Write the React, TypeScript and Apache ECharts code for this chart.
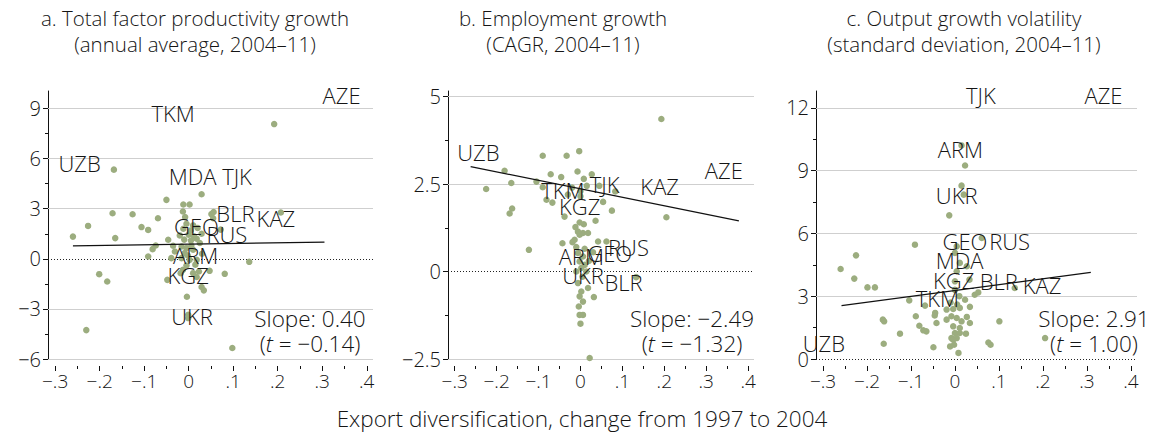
import React, { useEffect, useRef } from 'react';
import * as echarts from 'echarts';

// ---------- data ----------
const xTicks = [-0.3, -0.2, -0.1, 0, 0.1, 0.2, 0.3, 0.4];
const xMinorTicks = [-0.25, -0.15, -0.05, 0.05, 0.15, 0.25, 0.35];

const tfpTicks = [-6, -3, 0, 3, 6, 9];
const tfpMinorTicks = [-4.5, -1.5, 1.5, 4.5, 7.5];
const empTicks = [-2.5, 0, 2.5, 5];
const empMinorTicks = [-1.25, 1.25, 3.75];
const volTicks = [0, 3, 6, 9, 12];
const volMinorTicks = [1.5, 4.5, 7.5, 10.5];

const tfpPoints = [
  [0.192, 8.07], [-0.168, 5.34], [0.029, 3.87], [-0.05, 3.53], [-0.012, 3.25], [0.002, 3.25],
  [-0.013, 2.83], [-0.008, 2.5], [-0.171, 2.73], [-0.126, 2.67], [-0.069, 2.43], [-0.226, 1.97],
  [-0.26, 1.33], [-0.165, 1.24], [-0.106, 1.9], [-0.091, 1.73], [0.051, 2.68], [0.056, 2.8],
  [0.055, 2.43], [0.029, 1.5], [0.072, 1.75], [0.207, 2.77], [-0.046, 1.14], [-0.074, 0.8],
  [-0.081, 0.58], [-0.091, 0.14], [-0.035, 0.78], [-0.039, 0.04], [0.136, -0.18], [-0.201, -0.92],
  [-0.183, -1.36], [-0.048, -1.26], [-0.018, -0.86], [0.023, -0.76], [0.047, -0.72], [0.081, -0.9],
  [0.029, -1.69], [0.034, -1.89], [-0.004, -2.27], [-0.001, -3.35], [-0.001, -3.55], [-0.23, -4.27],
  [0.098, -5.34],
  [-0.005, 2.1], [0.01, 2.0], [-0.012, 1.8], [0.005, 1.7], [0.02, 1.85], [-0.01, 1.15], [0.005, 1.1],
  [0.018, 1.2], [-0.016, 0.74], [-0.005, 0.64], [0.006, 0.8], [-0.031, 0.44], [-0.009, 0.34],
  [0.01, 0.54], [-0.016, 0.04], [0.002, -0.06], [0.018, -0.06], [-0.013, -0.66], [0.01, -0.86],
  [0.018, -1.09], [0.0, 1.45], [0.012, 1.35], [-0.02, 1.4], [0.025, 0.95], [-0.002, 0.2],
  [0.015, -0.35], [-0.005, -0.4], [0.03, 0.3],
];

const empPoints = [
  [0.193, 4.36], [-0.09, 3.31], [-0.033, 3.31], [-0.003, 3.44], [-0.181, 2.88], [-0.165, 2.53],
  [-0.225, 2.36], [-0.163, 1.8], [-0.169, 1.66], [-0.123, 0.62], [-0.071, 2.78], [-0.046, 2.7],
  [-0.007, 2.86], [0.027, 2.78], [0.008, 2.65], [-0.105, 2.57], [-0.09, 2.41], [-0.081, 2.05],
  [-0.067, 1.97], [-0.038, 1.57], [0.054, 1.99], [0.075, 1.74], [0.083, 2.29], [0.205, 1.55],
  [0.036, 1.45], [-0.002, 1.4], [0.008, 1.35], [-0.012, 1.27], [-0.006, 1.14], [0.006, 1.1],
  [0.018, 1.1], [-0.002, 1.05], [-0.043, 0.81], [-0.019, 0.84], [-0.014, 0.91], [0.042, 0.86],
  [0.062, 0.86], [-0.006, 0.53], [0.006, 0.43], [-0.002, 0.29], [0.01, 0.19], [0.002, 0.1],
  [0.014, 0.0], [0.133, -0.16], [-0.006, -0.33], [0.018, -0.47], [0.002, -0.57], [-0.002, -0.71],
  [0.006, -0.86], [-0.004, -1.0], [0.032, -0.73], [-0.002, -1.24], [0.006, -1.24], [0.0, -1.49],
  [0.022, -2.47],
  [-0.02, 2.4], [0.0, 2.3], [0.015, 2.45], [-0.03, 2.2], [0.045, 2.45], [0.0, 2.15], [-0.01, 0.7],
  [0.01, 0.65], [0.02, 0.3], [-0.01, 0.0], [0.005, -0.15], [0.03, 0.55],
];

const volPoints = [
  [0.015, 10.2], [0.023, 9.24], [0.015, 8.28], [0.02, 7.85], [-0.013, 6.86], [0.061, 5.78],
  [-0.091, 5.46], [-0.225, 4.95], [-0.26, 4.3], [-0.229, 3.84], [-0.199, 3.42], [-0.182, 3.42],
  [0.004, 5.38], [0.0, 5.07], [0.011, 4.59], [0.027, 4.43], [0.004, 4.19], [0.0, 3.71],
  [0.033, 3.79], [0.136, 3.39], [0.045, 3.07], [0.053, 3.18], [-0.104, 2.8], [-0.068, 2.55],
  [0.023, 2.83], [0.034, 2.49], [-0.019, 2.36], [-0.004, 2.39], [0.011, 2.44], [-0.045, 2.2],
  [-0.046, 2.08], [-0.089, 2.04], [-0.164, 1.88], [-0.161, 1.8], [-0.019, 1.88], [-0.008, 2.04],
  [0.004, 1.96], [0.015, 1.8], [0.027, 2.01], [0.034, 1.72], [-0.042, 1.72], [0.101, 1.8],
  [-0.081, 1.59], [-0.072, 1.37], [-0.004, 1.56], [0.011, 1.48], [0.0, 1.24], [0.011, 1.24],
  [-0.008, 1.0], [0.004, 1.0], [0.025, 1.21], [-0.125, 1.21], [0.076, 0.79], [0.081, 0.68],
  [-0.049, 0.56], [-0.011, 0.6], [0.008, 0.29], [-0.004, 0.92], [-0.162, 0.73], [-0.065, 1.32],
  [-0.002, 0.68], [0.205, 1.0], [0.0, 3.3], [0.01, 3.0], [-0.01, 2.7], [0.005, 2.6],
];

const tfpLabels: [number, number, string][] = [
  [0.3435, 9.81, 'AZE'], [-0.035, 8.71, 'TKM'], [-0.245, 5.76, 'UZB'], [0.009, 4.96, 'MDA'],
  [0.1086, 4.96, 'TJK'], [0.105, 2.73, 'BLR'], [0.196, 2.43, 'KAZ'], [0.0175, 1.99, 'GEO'],
  [0.0857, 1.48, 'RUS'], [0.0155, 0.24, 'ARM'], [-0.0013, -0.96, 'KGZ'], [0.0074, -3.45, 'UKR'],
];
const empLabels: [number, number, string][] = [
  [-0.2434, 3.43, 'UZB'], [0.342, 2.91, 'AZE'], [-0.042, 2.33, 'TKM'], [0.0578, 2.51, 'TJK'],
  [0.189, 2.45, 'KAZ'], [-0.002, 1.88, 'KGZ'], [0.1146, 0.71, 'RUS'], [0.0697, 0.54, 'GEO'],
  [0.002, 0.43, 'ARM'], [0.006, -0.09, 'UKR'], [0.1026, -0.29, 'BLR'],
];
const volLabels: [number, number, string][] = [
  [0.059, 12.63, 'TJK'], [0.3377, 12.63, 'AZE'], [0.0125, 10.04, 'ARM'], [0.0039, 7.81, 'UKR'],
  [0.0227, 5.62, 'GEO'], [0.1244, 5.62, 'RUS'], [0.0107, 4.71, 'MDA'], [-0.003, 3.79, 'KGZ'],
  [0.0996, 3.71, 'BLR'], [0.198, 3.55, 'KAZ'], [-0.04, 2.92, 'TKM'], [-0.298, 0.78, 'UZB'],
];

const tfpFit = [[-0.26, 0.78], [0.305, 1.0]];
const empFit = [[-0.262, 3.0], [0.378, 1.45]];
const volFit = [[-0.258, 2.55], [0.309, 4.14]];

const titles = [
  ['a. Total factor productivity growth', '(annual average, 2004–11)'],
  ['b. Employment growth', '(CAGR, 2004–11)'],
  ['c. Output growth volatility', '(standard deviation, 2004–11)'],
];
const slopeTexts = ['Slope: 0.40', 'Slope: −2.49', 'Slope: 2.91'];
const tValues = ['−0.14', '−1.32', '1.00'];
const xTitle = 'Export diversification, change from 1997 to 2004';

// ---------- layout ----------
const FONT = "'Open Sans', 'Liberation Sans', sans-serif";
const FW = 300;
const TXT = '#151515';
const DOT = '#9cad7f';
const GRID_TOP = 91;
const GRID_H = 268;
const X_MIN = -0.316;
const X_MAX = 0.414;

const panels = [
  { left: 48, width: 325, yMin: -6, yMax: 10.05, ticks: tfpTicks, minor: tfpMinorTicks, points: tfpPoints, labels: tfpLabels, fit: tfpFit, titleX: 195, slopeX: 310 },
  { left: 448, width: 306, yMin: -2.5, yMax: 5.16, ticks: empTicks, minor: empMinorTicks, points: empPoints, labels: empLabels, fit: empFit, titleX: 563, slopeX: 692 },
  { left: 816, width: 321, yMin: 0, yMax: 12.8, ticks: volTicks, minor: volMinorTicks, points: volPoints, labels: volLabels, fit: volFit, titleX: 964, slopeX: 1094 },
];

const fmtY = (v: number) => (v < 0 ? '−' + Math.abs(v) : String(v));
const fmtX = (v: number) => {
  if (Math.abs(v) < 1e-9) return '0';
  return (v < 0 ? '−' : '') + '.' + Math.round(Math.abs(v) * 10);
};

function buildOption() {
  const grid: any[] = [];
  const xAxis: any[] = [];
  const yAxis: any[] = [];
  const series: any[] = [];
  const graphic: any[] = [];

  panels.forEach((p, i) => {
    grid.push({ left: p.left, top: GRID_TOP, width: p.width, height: GRID_H });
    xAxis.push({
      type: 'value', gridIndex: i, min: X_MIN, max: X_MAX, position: 'bottom', offset: 7,
      axisLine: { show: false, onZero: false }, splitLine: { show: false },
      axisTick: { show: true, length: 5, customValues: xTicks, lineStyle: { color: '#111', width: 1 } },
      axisLabel: { show: true, customValues: xTicks, formatter: fmtX, color: TXT, fontSize: 19, fontFamily: FONT, fontWeight: FW, margin: 5 },
    });
    xAxis.push({
      type: 'value', gridIndex: i, min: X_MIN, max: X_MAX, position: 'bottom', offset: 7,
      axisLine: { show: false, onZero: false }, splitLine: { show: false }, axisLabel: { show: false },
      axisTick: { show: true, length: 3, customValues: xMinorTicks, lineStyle: { color: '#111', width: 1 } },
    });
    yAxis.push({
      type: 'value', gridIndex: i, min: p.yMin, max: p.yMax, position: 'left',
      axisLine: { show: true, onZero: false, lineStyle: { color: '#111', width: 1 } }, splitLine: { show: false },
      axisTick: { show: true, length: 5, customValues: p.ticks, lineStyle: { color: '#111', width: 1 } },
      axisLabel: { show: true, customValues: p.ticks, formatter: fmtY, color: TXT, fontSize: 20, fontFamily: FONT, fontWeight: FW, margin: 7 },
    });
    yAxis.push({
      type: 'value', gridIndex: i, min: p.yMin, max: p.yMax, position: 'left',
      axisLine: { show: false, onZero: false }, splitLine: { show: false }, axisLabel: { show: false },
      axisTick: { show: true, length: 3, customValues: p.minor, lineStyle: { color: '#111', width: 1 } },
    });

    const xi = i * 2;
    const yi = i * 2;
    const gridVals = p.ticks.filter((v) => v !== 0);

    series.push({
      type: 'scatter', xAxisIndex: xi, yAxisIndex: yi, z: 3,
      symbolSize: 6.5, itemStyle: { color: DOT, opacity: 1 },
      data: p.points,
      silent: true,
      markLine: {
        silent: true, z: 1, symbol: ['none', 'none'], animation: false,
        label: { show: false },
        data: [
          ...gridVals.map((v) => ({ yAxis: v, lineStyle: { color: '#cfcfcf', width: 1, type: 'solid' } })),
          { yAxis: 0, lineStyle: { color: '#222', width: 1, type: [1, 2] } },
        ],
      },
    });
    series.push({
      type: 'line', xAxisIndex: xi, yAxisIndex: yi, z: 4,
      data: p.fit, symbol: 'none', showSymbol: false, silent: true,
      lineStyle: { color: '#111', width: 1.2 },
    });
    series.push({
      type: 'scatter', xAxisIndex: xi, yAxisIndex: yi, z: 5, silent: true,
      symbolSize: 1, itemStyle: { color: '#ffffff', opacity: 0 },
      data: p.labels.map((l) => ({ value: [l[0], l[1]], name: l[2] })),
      label: {
        show: true, position: 'inside', formatter: '{b}', color: TXT,
        fontSize: 22, fontFamily: FONT, fontWeight: FW,
        textBorderWidth: 0, textBorderColor: 'transparent', textShadowBlur: 0, opacity: 1,
      },
    });

    graphic.push({
      type: 'text', x: p.titleX, y: 18,
      style: { text: titles[i][0], align: 'center', verticalAlign: 'middle', fill: TXT, fontSize: 20.5, fontFamily: FONT, fontWeight: FW },
    });
    graphic.push({
      type: 'text', x: p.titleX, y: 44,
      style: { text: titles[i][1], align: 'center', verticalAlign: 'middle', fill: TXT, fontSize: 20.5, fontFamily: FONT, fontWeight: FW },
    });
    graphic.push({
      type: 'text', x: p.slopeX, y: 318,
      style: { text: slopeTexts[i], align: 'center', verticalAlign: 'middle', fill: TXT, fontSize: 22.5, fontFamily: FONT, fontWeight: FW },
    });
    graphic.push({
      type: 'text', x: p.slopeX, y: 343,
      style: {
        text: '({i|t} = ' + tValues[i] + ')', align: 'center', verticalAlign: 'middle', fill: TXT,
        fontSize: 22.5, fontFamily: FONT, fontWeight: FW,
        rich: { i: { fontStyle: 'italic', fontSize: 22.5, fontFamily: FONT, fontWeight: FW, fill: TXT } },
      },
    });
  });

  graphic.push({
    type: 'text', x: 582, y: 418,
    style: { text: xTitle, align: 'center', verticalAlign: 'middle', fill: TXT, fontSize: 22.5, fontFamily: FONT, fontWeight: FW },
  });

  return {
    animation: false,
    backgroundColor: '#fff',
    grid, xAxis, yAxis, series, graphic,
  };
}

export default function App() {
  const ref = useRef<HTMLDivElement>(null);
  useEffect(() => {
    if (!ref.current) return;
    const chart = echarts.init(ref.current, null, { renderer: 'svg' });
    chart.setOption(buildOption() as any);
    return () => chart.dispose();
  }, []);
  return (
    <div
      ref={ref}
      style={{ position: 'fixed', left: 0, top: 0, width: 1159, height: 439, background: '#fff' }}
    />
  );
}
